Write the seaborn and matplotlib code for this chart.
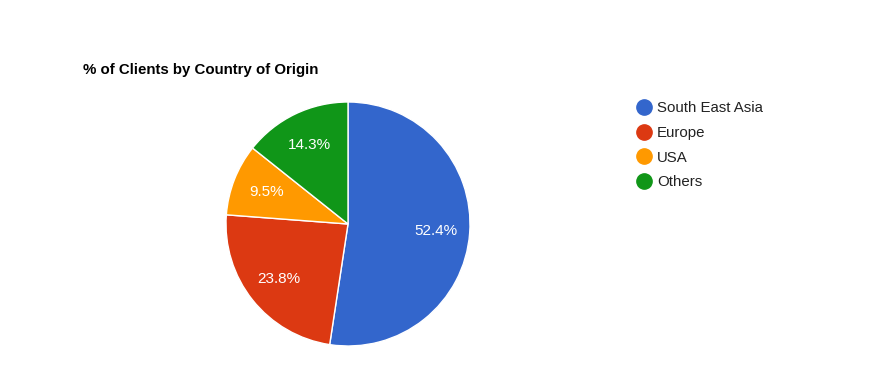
import matplotlib
matplotlib.use("Agg")
import matplotlib.pyplot as plt
from matplotlib.lines import Line2D
import seaborn as sns

regions = ["South East Asia", "Europe", "USA", "Others"]
shares = [52.4, 23.8, 9.5, 14.3]
colors = ["#3366cc", "#dc3912", "#ff9900", "#109618"]
title = "% of Clients by Country of Origin"

sns.set_theme(style="white")
plt.rcParams["font.family"] = ["Liberation Sans", "DejaVu Sans"]
palette = sns.color_palette(colors)

W, H = 875, 383
fig = plt.figure(figsize=(W / 100, H / 100), dpi=100)
fig.patch.set_facecolor("white")

# pie area in pixels: x 226..470, y 102..346
ax = fig.add_axes([226 / W, (H - 346) / H, 244 / W, 244 / H])
wedges, texts, autotexts = ax.pie(
    shares, colors=palette, startangle=90, counterclock=False,
    autopct="%.1f%%", pctdistance=0.72,
    wedgeprops=dict(edgecolor="white", linewidth=1),
    textprops=dict(color="white", fontsize=11),
)
ax.set_xlim(-1.0, 1.0)
ax.set_ylim(-1.0, 1.0)
ax.set_aspect("auto")
ax.axis("off")

fig.text(83 / W, 1 - 70 / H, title, fontsize=10.8, fontweight="bold",
         color="black", ha="left", va="center")

handles = [Line2D([0], [0], marker="o", linestyle="", markersize=11,
                  markerfacecolor=c, markeredgecolor=c) for c in palette]
leg = fig.legend(handles, regions, loc="upper left",
                 bbox_to_anchor=(636 / W, 1 - 101 / H), frameon=False,
                 fontsize=10.8, handlelength=1.0, handletextpad=0.4,
                 labelspacing=0.72, borderaxespad=0, borderpad=0)
for t in leg.get_texts():
    t.set_color("#222222")

fig.savefig("out.png", dpi=100, facecolor="white")
plt.close(fig)
